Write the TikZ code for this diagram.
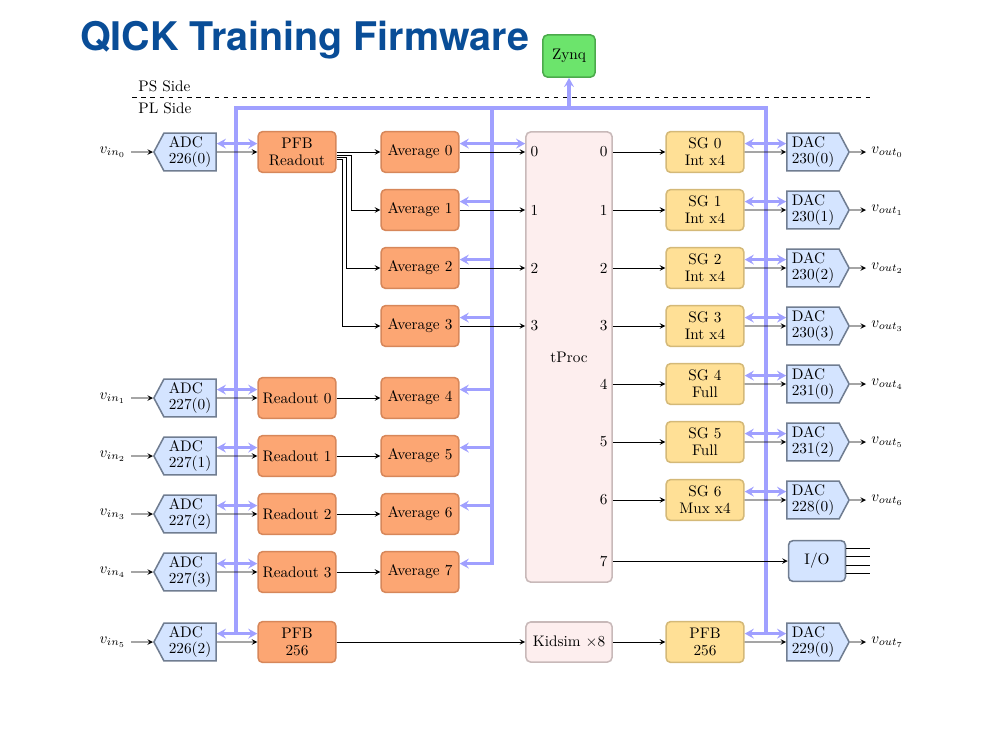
\documentclass[tikz,border=0pt]{standalone}
\usepackage{fontspec}
\newfontfamily\titlefont{TeX Gyre Heros}
\usetikzlibrary{shapes.symbols,arrows.meta}
\definecolor{titleblue}{RGB}{9,77,151}
\definecolor{busblue}{RGB}{160,160,255}
\definecolor{rxfill}{RGB}{252,166,115}
\definecolor{rxline}{RGB}{215,135,90}
\definecolor{sgfill}{RGB}{255,224,150}
\definecolor{sgline}{RGB}{212,185,120}
\definecolor{cvfill}{RGB}{212,228,255}
\definecolor{cvline}{RGB}{112,125,145}
\definecolor{tpfill}{RGB}{253,238,238}
\definecolor{tpline}{RGB}{200,185,185}
\definecolor{zqfill}{RGB}{108,228,108}
\definecolor{zqline}{RGB}{75,170,75}
\begin{document}
\begin{tikzpicture}[x=0.023cm, y=-0.023cm,
    every node/.style={font=\fontsize{10}{11}\selectfont},
    box/.style={draw, rounded corners=3pt, line width=1pt, minimum width=1.79cm, minimum height=0.94cm, align=center, inner sep=1pt},
    rx/.style={box, fill=rxfill, draw=rxline},
    sg/.style={box, fill=sgfill, draw=sgline},
    conv/.style={signal, signal pointer angle=124, draw=cvline, fill=cvfill, line width=1pt, minimum width=1.43cm, minimum height=0.87cm, align=left, inner xsep=1pt, inner ysep=0pt},
    adc/.style={conv, signal to=west},
    dac/.style={conv, signal to=east},
    port/.style={inner sep=3.3pt},
    sig/.style={->, >=stealth, line width=0.6pt},
    bus/.style={draw=busblue, line width=2pt, >={Stealth[length=6pt, width=6.5pt, inset=2.2pt]}}]
  \useasboundingbox (0,0) rectangle (1007,755);
  \node[font=\titlefont\bfseries\fontsize{25.8}{30}\selectfont, text=titleblue, anchor=base west, inner sep=0pt] (title) at (80,50) {QICK Training Firmware};
  \node[anchor=west] (ps) at (133,86) {PS Side};
  \node[anchor=west] (pl) at (133,108) {PL Side};
  \coordinate (dashl) at (132,97);
  \coordinate (dashr) at (870,97);
  \node[box, fill=zqfill, draw=zqline, minimum width=1.2cm, minimum height=0.97cm] (zynq) at (569,56) {Zynq};
  \draw
    (131,152) node[anchor=east] (vin0) {$v_{in_0}$}
    (131,398) node[anchor=east] (vin1) {$v_{in_1}$}
    (131,456) node[anchor=east] (vin2) {$v_{in_2}$}
    (131,514) node[anchor=east] (vin3) {$v_{in_3}$}
    (131,572) node[anchor=east] (vin4) {$v_{in_4}$}
    (131,642) node[anchor=east] (vin5) {$v_{in_5}$};
  \draw
    (190,152) node[adc] (adc0) {ADC\\226(0)}
    (190,398) node[adc] (adc1) {ADC\\227(0)}
    (190,456) node[adc] (adc2) {ADC\\227(1)}
    (190,514) node[adc] (adc3) {ADC\\227(2)}
    (190,572) node[adc] (adc4) {ADC\\227(3)}
    (190,642) node[adc] (adc5) {ADC\\226(2)};
  \draw
    (297,152) node[rx] (pfbro) {PFB\\Readout}
    (297,398) node[rx] (ro0) {Readout 0}
    (297,456) node[rx] (ro1) {Readout 1}
    (297,514) node[rx] (ro2) {Readout 2}
    (297,572) node[rx] (ro3) {Readout 3}
    (297,642) node[rx] (pfbin) {PFB\\256};
  \draw
    (420,152) node[rx] (avg0) {Average 0}
    (420,210) node[rx] (avg1) {Average 1}
    (420,268) node[rx] (avg2) {Average 2}
    (420,326) node[rx] (avg3) {Average 3}
    (420,398) node[rx] (avg4) {Average 4}
    (420,456) node[rx] (avg5) {Average 5}
    (420,514) node[rx] (avg6) {Average 6}
    (420,572) node[rx] (avg7) {Average 7};
  \node[box, fill=tpfill, draw=tpline, minimum width=1.98cm, minimum height=10.35cm] (tproc) at (569,357) {tProc};
  \node[box, fill=tpfill, draw=tpline, minimum width=1.98cm, minimum height=0.92cm] (kidsim) at (569,642) {Kidsim $\times$8};
  \draw
    (tproc.west |- avg0) node[port, anchor=west] (in0) {0}
    (tproc.west |- avg1) node[port, anchor=west] (in1) {1}
    (tproc.west |- avg2) node[port, anchor=west] (in2) {2}
    (tproc.west |- avg3) node[port, anchor=west] (in3) {3};
  \draw
    (705,152) node[sg] (sg0) {SG 0\\Int x4}
    (705,210) node[sg] (sg1) {SG 1\\Int x4}
    (705,268) node[sg] (sg2) {SG 2\\Int x4}
    (705,326) node[sg] (sg3) {SG 3\\Int x4}
    (705,384) node[sg] (sg4) {SG 4\\Full}
    (705,442) node[sg] (sg5) {SG 5\\Full}
    (705,500) node[sg] (sg6) {SG 6\\Mux x4}
    (705,642) node[sg] (pfbout) {PFB\\256};
  \node[box, fill=cvfill, draw=cvline, minimum width=1.31cm] (io) at (817,561) {I/O};
  \draw
    (tproc.east |- sg0) node[port, anchor=east] (out0) {0}
    (tproc.east |- sg1) node[port, anchor=east] (out1) {1}
    (tproc.east |- sg2) node[port, anchor=east] (out2) {2}
    (tproc.east |- sg3) node[port, anchor=east] (out3) {3}
    (tproc.east |- sg4) node[port, anchor=east] (out4) {4}
    (tproc.east |- sg5) node[port, anchor=east] (out5) {5}
    (tproc.east |- sg6) node[port, anchor=east] (out6) {6}
    (tproc.east |- io) node[port, anchor=east] (out7) {7};
  \draw
    (813,152) node[dac] (dac0) {DAC\\230(0)}
    (813,210) node[dac] (dac1) {DAC\\230(1)}
    (813,268) node[dac] (dac2) {DAC\\230(2)}
    (813,326) node[dac] (dac3) {DAC\\230(3)}
    (813,384) node[dac] (dac4) {DAC\\231(0)}
    (813,442) node[dac] (dac5) {DAC\\231(2)}
    (813,500) node[dac] (dac6) {DAC\\228(0)}
    (813,642) node[dac] (dac7) {DAC\\229(0)};
  \draw
    (866,152) node[anchor=west] (vout0) {$v_{out_0}$}
    (866,210) node[anchor=west] (vout1) {$v_{out_1}$}
    (866,268) node[anchor=west] (vout2) {$v_{out_2}$}
    (866,326) node[anchor=west] (vout3) {$v_{out_3}$}
    (866,384) node[anchor=west] (vout4) {$v_{out_4}$}
    (866,442) node[anchor=west] (vout5) {$v_{out_5}$}
    (866,500) node[anchor=west] (vout6) {$v_{out_6}$}
    (866,642) node[anchor=west] (vout7) {$v_{out_7}$};
  \coordinate (busl) at (236,108);
  \coordinate (busm) at (492,108);
  \coordinate (busr) at (766,108);
  \coordinate (busld) at (236,634);
  \coordinate (busrd) at (766,634);
  \draw[dashed] (dashl) -- (dashr);
  \begin{scope}[bus]
    \draw (busld) -- (busl) -- (busr) -- (busrd);
    \draw[->] (zynq.south |- busl) -- (zynq);
    \draw[<->] ([yshift=5.5pt]adc0.east) -- ([yshift=5.5pt]pfbro.west);
    \draw[<->] ([yshift=5.5pt]adc1.east) -- ([yshift=5.5pt]ro0.west);
    \draw[<->] ([yshift=5.5pt]adc2.east) -- ([yshift=5.5pt]ro1.west);
    \draw[<->] ([yshift=5.5pt]adc3.east) -- ([yshift=5.5pt]ro2.west);
    \draw[<->] ([yshift=5.5pt]adc4.east) -- ([yshift=5.5pt]ro3.west);
    \draw[<->] ([yshift=5.5pt]adc5.east) -- ([yshift=5.5pt]pfbin.west);
    \draw[<->] ([yshift=5.5pt]avg0.east) -- ([yshift=5.5pt]in0.west);
    \draw[->] ([yshift=5.5pt]avg1.east -| busm) -- ([yshift=5.5pt]avg1.east);
    \draw[->] ([yshift=5.5pt]avg2.east -| busm) -- ([yshift=5.5pt]avg2.east);
    \draw[->] ([yshift=5.5pt]avg3.east -| busm) -- ([yshift=5.5pt]avg3.east);
    \draw[->] ([yshift=5.5pt]avg4.east -| busm) -- ([yshift=5.5pt]avg4.east);
    \draw[->] ([yshift=5.5pt]avg5.east -| busm) -- ([yshift=5.5pt]avg5.east);
    \draw[->] ([yshift=5.5pt]avg6.east -| busm) -- ([yshift=5.5pt]avg6.east);
    \draw[->] (busm) |- ([yshift=5.5pt]avg7.east);
    \draw[<->] ([yshift=5.5pt]sg0.east) -- ([yshift=5.5pt]dac0.west);
    \draw[<->] ([yshift=5.5pt]sg1.east) -- ([yshift=5.5pt]dac1.west);
    \draw[<->] ([yshift=5.5pt]sg2.east) -- ([yshift=5.5pt]dac2.west);
    \draw[<->] ([yshift=5.5pt]sg3.east) -- ([yshift=5.5pt]dac3.west);
    \draw[<->] ([yshift=5.5pt]sg4.east) -- ([yshift=5.5pt]dac4.west);
    \draw[<->] ([yshift=5.5pt]sg5.east) -- ([yshift=5.5pt]dac5.west);
    \draw[<->] ([yshift=5.5pt]sg6.east) -- ([yshift=5.5pt]dac6.west);
    \draw[<->] ([yshift=5.5pt]pfbout.east) -- ([yshift=5.5pt]dac7.west);
  \end{scope}
  \begin{scope}[sig]
    \draw (vin0) -- (adc0);
    \draw (vin1) -- (adc1);
    \draw (vin2) -- (adc2);
    \draw (vin3) -- (adc3);
    \draw (vin4) -- (adc4);
    \draw (vin5) -- (adc5);
    \draw (adc0) -- (pfbro);
    \draw (adc1) -- (ro0);
    \draw (adc2) -- (ro1);
    \draw (adc3) -- (ro2);
    \draw (adc4) -- (ro3);
    \draw (adc5) -- (pfbin);
    \draw (pfbro) -- (avg0);
    \draw ([yshift=-2pt]pfbro.east) -- ++(15,0) |- (avg1);
    \draw ([yshift=-3.6pt]pfbro.east) -- ++(10,0) |- (avg2);
    \draw ([yshift=-5.2pt]pfbro.east) -- ++(6,0) |- (avg3);
    \draw (ro0) -- (avg4);
    \draw (ro1) -- (avg5);
    \draw (ro2) -- (avg6);
    \draw (ro3) -- (avg7);
    \draw (avg0) -- (in0.west);
    \draw (avg1) -- (in1.west);
    \draw (avg2) -- (in2.west);
    \draw (avg3) -- (in3.west);
    \draw (pfbin) -- (kidsim);
    \draw (kidsim) -- (pfbout);
    \draw (out0.east) -- (sg0);
    \draw (out1.east) -- (sg1);
    \draw (out2.east) -- (sg2);
    \draw (out3.east) -- (sg3);
    \draw (out4.east) -- (sg4);
    \draw (out5.east) -- (sg5);
    \draw (out6.east) -- (sg6);
    \draw (out7.east) -- (io);
    \draw (sg0) -- (dac0);
    \draw (sg1) -- (dac1);
    \draw (sg2) -- (dac2);
    \draw (sg3) -- (dac3);
    \draw (sg4) -- (dac4);
    \draw (sg5) -- (dac5);
    \draw (sg6) -- (dac6);
    \draw (pfbout) -- (dac7);
    \draw (dac0) -- (vout0.west);
    \draw (dac1) -- (vout1.west);
    \draw (dac2) -- (vout2.west);
    \draw (dac3) -- (vout3.west);
    \draw (dac4) -- (vout4.west);
    \draw (dac5) -- (vout5.west);
    \draw (dac6) -- (vout6.west);
    \draw (dac7) -- (vout7.west);
  \end{scope}
  \draw[line width=0.6pt] ([yshift=8.2pt]io.east) -- ++(24,0);
  \draw[line width=0.6pt] ([yshift=2.7pt]io.east) -- ++(24,0);
  \draw[line width=0.6pt] ([yshift=-2.7pt]io.east) -- ++(24,0);
  \draw[line width=0.6pt] ([yshift=-8.2pt]io.east) -- ++(24,0);
\end{tikzpicture}
\end{document}
